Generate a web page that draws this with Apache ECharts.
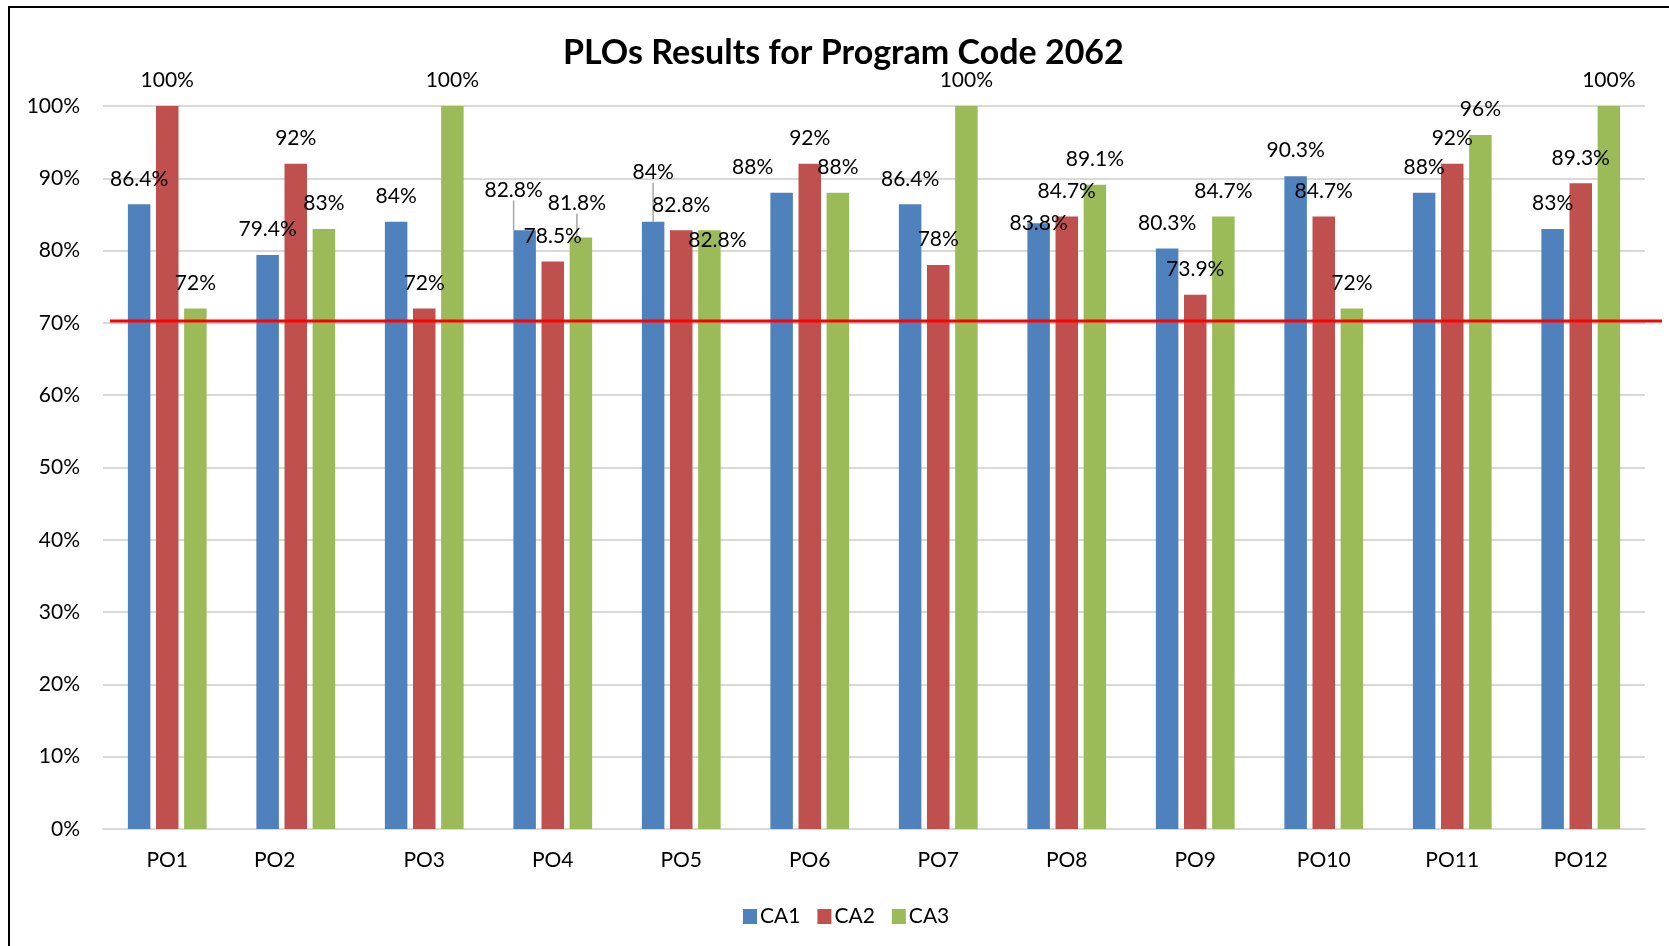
<!DOCTYPE html>
<html><head><meta charset="utf-8">
<script src="https://cdn.jsdelivr.net/npm/echarts@6/dist/echarts.min.js"></script>
<style>html,body{margin:0;padding:0;background:#fff}#c{width:1669px;height:946px}</style>
</head><body><div id="c"></div>
<script>
const categories = ['PO1','PO2','PO3','PO4','PO5','PO6','PO7','PO8','PO9','PO10','PO11','PO12'];
const ca1 = [86.4, 79.4, 84, 82.8, 84, 88, 86.4, 83.8, 80.3, 90.3, 88, 83];
const ca2 = [100, 92, 72, 78.5, 82.8, 92, 78, 84.7, 73.9, 84.7, 92, 89.3];
const ca3 = [72, 83, 100, 81.8, 82.8, 88, 100, 89.1, 84.7, 72, 96, 100];
const seriesNames = ['CA1','CA2','CA3'];
const target = 70;
const titleText = 'PLOs Results for Program Code 2062';

// manual label nudges (series index, data index) -> pixel offset
const nudges = {
  '0-3': {dx: -11, dy: -15, line: true},
  '2-3': {dx: -4, dy: -9, line: true},
  '0-4': {dx: 0, dy: -24, line: true},
  '2-4': {dx: 8, dy: 35},
  '0-5': {dx: -29, dy: 0},
  '0-7': {dx: 0, dy: 26}
};
const shiftedCategory = 'PO2';
const colors = ['#4F81BD','#C0504D','#9BBB59'];
const FONT = 'Lato, "Open Sans", sans-serif';

const chart = echarts.init(document.getElementById('c'), null, {renderer: 'canvas'});
const allVals = [ca1, ca2, ca3];
const series = allVals.map((vals, si) => ({
  name: seriesNames[si],
  type: 'bar',
  barWidth: 22.5,
  barGap: '25%',
  itemStyle: {color: colors[si]},
  data: vals.map((v, di) => {
    const n = nudges[si + '-' + di];
    return n && n.line ? {value: v, labelLine: {show: true}} : {value: v};
  }),
  label: {
    show: true, position: 'top', distance: 15,
    color: '#000', fontSize: 21, fontFamily: FONT,
    formatter: p => p.value + '%'
  },
  labelLine: {show: false, lineStyle: {color: '#a6a6a6', width: 1.5}},
  labelLayout: p => {
    const n = nudges[p.seriesIndex + '-' + p.dataIndex];
    return n ? {dx: n.dx, dy: n.dy} : {};
  },
  z: 2
}));

chart.setOption({
  animation: false,
  backgroundColor: '#fff',
  color: colors,
  title: {
    text: titleText, left: 558, top: 31,
    textStyle: {fontFamily: FONT, fontWeight: 'bold', fontSize: 34, color: '#000'}
  },
  legend: {
    data: seriesNames, left: 738, top: 901,
    itemWidth: 14, itemHeight: 15, itemGap: 17,
    icon: 'rect',
    textStyle: {fontFamily: FONT, fontSize: 21, color: '#000', padding: [0,0,0,-2]}
  },
  grid: {left: 103, right: 24, top: 106, bottom: 117, containLabel: false},
  xAxis: {
    type: 'category', data: categories,
    axisLine: {lineStyle: {color: '#d9d9d9', width: 2}},
    axisTick: {show: false},
    axisLabel: {
      color: '#000', fontSize: 21, fontFamily: FONT, margin: 21,
      formatter: v => v === shiftedCategory ? '{s|' + v + '}' : v,
      rich: {s: {fontSize: 21, fontFamily: FONT, color: '#000', padding: [0, 42, 0, 0]}}
    }
  },
  yAxis: {
    type: 'value', min: 0, max: 100, interval: 10,
    axisLine: {show: false}, axisTick: {show: false},
    axisLabel: {color: '#000', fontSize: 21, fontFamily: FONT, margin: 23, formatter: '{value}%'},
    splitLine: {lineStyle: {color: '#d9d9d9', width: 2}}
  },
  series: series
});

const yPix = chart.convertToPixel({yAxisIndex: 0}, target) - 2;
chart.setOption({
  graphic: [
    {type: 'rect', shape: {x: 9, y: 7, width: 1700, height: 1000}, style: {fill: null, stroke: '#000', lineWidth: 2}, z: 100},
    {type: 'line', shape: {x1: 110, y1: yPix, x2: 1662, y2: yPix}, style: {stroke: '#ff0000', lineWidth: 3}, z: 100}
  ]
});
</script></body></html>
